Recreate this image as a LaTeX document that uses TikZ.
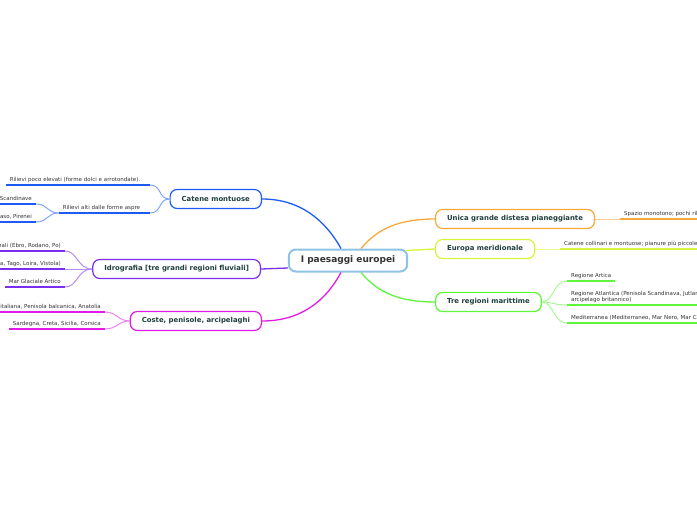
\documentclass[tikz,border=0pt]{standalone}
\usepackage{fontspec}
\setmainfont{DejaVu Sans}
\definecolor{MapText}{HTML}{1F3F3F}
\definecolor{LeafText}{HTML}{333333}
\definecolor{RootBlue}{HTML}{8EC3E6}
\definecolor{BranchBlue}{HTML}{1E5BF5}
\definecolor{BranchPurple}{HTML}{7B2EF0}
\definecolor{BranchPink}{HTML}{E21BE8}
\definecolor{BranchOrange}{HTML}{F7A93B}
\definecolor{BranchLime}{HTML}{D6F53A}
\definecolor{BranchGreen}{HTML}{5EF53A}
\begin{document}
\begin{tikzpicture}[x=1pt,y=-1pt,
  font=\fontsize{5.5}{6.5}\selectfont,
  root/.style={draw=RootBlue,line width=2pt,fill=white,rounded corners=7pt,
    minimum height=22pt,inner xsep=12pt,text=LeafText,
    font=\bfseries\fontsize{9}{11}\selectfont},
  topic/.style={draw=#1,line width=1.2pt,fill=white,rounded corners=7pt,
    minimum height=19pt,inner xsep=11.5pt,text=MapText,
    font=\bfseries\fontsize{6.9}{8}\selectfont},
  leaf/.style={inner xsep=4pt,inner ysep=2pt,text depth=1.3pt,text=LeafText,
    align=left},
  wire/.style={line width=1.3pt,#1},
  twig/.style={line width=1pt,#1!55},
  uline/.style={line width=1.8pt,#1}]
  \path[use as bounding box] (0,0) rectangle (697,520);
  \clip (0,0) rectangle (697,520);
  \node[root] (root) at (348,260.5) {I paesaggi europei};
  \node[topic=BranchBlue,anchor=east] (catene) at (262,199) {Catene montuose};
  \node[topic=BranchPurple,anchor=east] (idro) at (261,269)
    {Idrografia [tre grandi regioni fluviali]};
  \node[topic=BranchPink,anchor=east] (coste) at (262,321)
    {Coste, penisole, arcipelaghi};
  \node[topic=BranchOrange,anchor=west] (pianura) at (435,219)
    {Unica grande distesa pianeggiante};
  \node[topic=BranchLime,anchor=west] (sud) at (435,249) {Europa meridionale};
  \node[topic=BranchGreen,anchor=west] (mari) at (435,302) {Tre regioni marittime};
  \draw[wire=BranchBlue] ([xshift=-7pt]root.north) .. controls (325,220) and (300,199) .. (catene.east);
  \draw[wire=BranchPurple] ([yshift=-7.5pt]root.west) -- (idro.east);
  \draw[wire=BranchPink] ([xshift=-7pt]root.south) .. controls (325,302) and (300,321) .. (coste.east);
  \draw[wire=BranchOrange] ([xshift=13pt]root.north) .. controls (378,228) and (400,219) .. (pianura.west);
  \draw[wire=BranchLime] ([xshift=-2pt,yshift=10pt]root.east) -- (sud.west);
  \draw[wire=BranchGreen] ([xshift=13pt]root.south) .. controls (378,293) and (400,302) .. (mari.west);
  \node[leaf,anchor=south east,text width=136pt] (dolci) at (150,185)
    {Rilievi poco elevati (forme dolci e arrotondate).};
  \node[leaf,anchor=south east,text width=83pt] (aspre) at (150,213)
    {Rilievi alti dalle forme aspre};
  \node[leaf,anchor=south east] (scand) at (36,204) {Alpi, Alpi Scandinave};
  \node[leaf,anchor=south east] (pirenei) at (36,222) {Alpi, Carpazi, Caucaso, Pirenei};
  \node[leaf,anchor=south east] (ebro) at (65,251) {Fiumi brevi e stagionali (Ebro, Rodano, Po)};
  \node[leaf,anchor=south east] (senna) at (65,269)
    {Fiumi lunghi e regolari (Senna, Tago, Loira, Vistola)};
  \node[leaf,anchor=south east] (artico) at (65,287) {Mar Glaciale Artico};
  \node[leaf,anchor=south east] (penisole) at (105,312)
    {Penisola iberica, Penisola italiana, Penisola balcanica, Anatolia};
  \node[leaf,anchor=south east] (isole) at (105,329) {Sardegna, Creta, Sicilia, Corsica};
  \node[leaf,anchor=south west] (monotono) at (620,219) {Spazio monotono; pochi rilievi};
  \node[leaf,anchor=south west] (collinari) at (560,249)
    {Catene collinari e montuose; pianure più piccole};
  \node[leaf,anchor=south west] (artica) at (567,281) {Regione Artica};
  \node[leaf,anchor=south west] (atlantica) at (567,305)
    {Regione Atlantica (Penisola Scandinava, Jutland,\\arcipelago britannico)};
  \node[leaf,anchor=south west] (medit) at (567,323)
    {Mediterranea (Mediterraneo, Mar Nero, Mar Caspio)};
  \draw[twig=BranchBlue] (catene.west) .. controls (158,199) and (162,185) .. (dolci.south east);
  \draw[twig=BranchBlue] (catene.west) .. controls (158,199) and (162,213) .. (aspre.south east);
  \draw[twig=BranchBlue] (aspre.south west) .. controls (47,213) and (48,204) .. (scand.south east);
  \draw[twig=BranchBlue] (aspre.south west) .. controls (47,213) and (48,222) .. (pirenei.south east);
  \draw[twig=BranchPurple] (idro.west) .. controls (77,269) and (78,251) .. (ebro.south east);
  \draw[twig=BranchPurple] (idro.west) -- (senna.south east);
  \draw[twig=BranchPurple] (idro.west) .. controls (77,269) and (78,287) .. (artico.south east);
  \draw[twig=BranchPink] (coste.west) .. controls (118,321) and (117,312) .. (penisole.south east);
  \draw[twig=BranchPink] (coste.west) .. controls (118,321) and (117,329) .. (isole.south east);
  \draw[twig=BranchOrange] (pianura.east) -- (monotono.south west);
  \draw[twig=BranchLime] (sud.east) -- (collinari.south west);
  \draw[twig=BranchGreen] (mari.east) .. controls (554,302) and (553,281) .. (artica.south west);
  \draw[twig=BranchGreen] (mari.east) .. controls (554,302) and (553,305) .. (atlantica.south west);
  \draw[twig=BranchGreen] (mari.east) .. controls (554,302) and (553,323) .. (medit.south west);
  \foreach \leafname/\col in {dolci/BranchBlue,aspre/BranchBlue,scand/BranchBlue,
      pirenei/BranchBlue,ebro/BranchPurple,senna/BranchPurple,artico/BranchPurple,
      penisole/BranchPink,isole/BranchPink,monotono/BranchOrange,collinari/BranchLime,
      artica/BranchGreen,atlantica/BranchGreen,medit/BranchGreen}
    \draw[uline=\col] (\leafname.south west) -- (\leafname.south east);
\end{tikzpicture}
\end{document}
